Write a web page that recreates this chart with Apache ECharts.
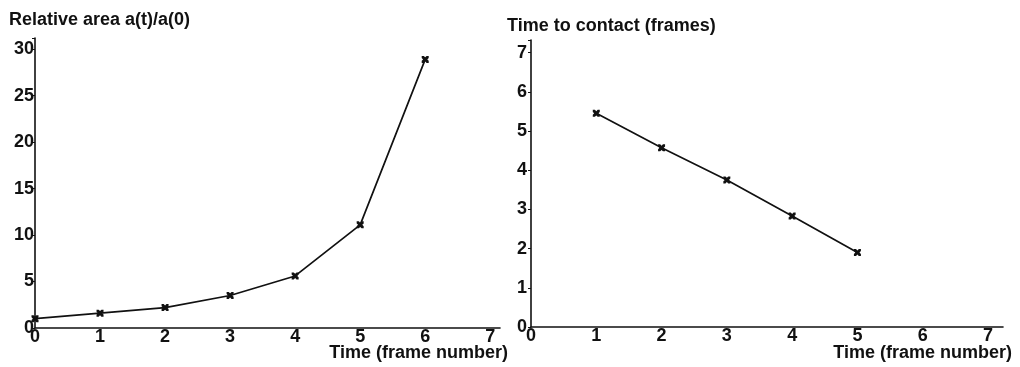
<!DOCTYPE html>
<html>
<head>
<meta charset="utf-8">
<script src="https://cdn.jsdelivr.net/npm/echarts@6/dist/echarts.min.js"></script>
<style>
  html, body { margin: 0; padding: 0; background: #fff; }
  #main { width: 1020px; height: 367px; }
</style>
</head>
<body>
<div id="main"></div>
<script>
// relative area a(t)/a(0), frames 0..6
var areaFrames = [0, 1, 2, 3, 4, 5, 6];
var areaValues = [1, 1.6, 2.2, 3.5, 5.6, 11.1, 28.9];

// time to contact, frames 1..5
var ttcFrames = [1, 2, 3, 4, 5];
var ttcValues = [5.45, 4.57, 3.75, 2.83, 1.9];

var font = 'Liberation Sans, Arial, sans-serif';
var cross = 'path://M0,0L3,0L5,2L7,0L10,0L10,3L8,5L10,7L10,10L7,10L5,8L3,10L0,10L0,7L2,5L0,3Z';

function pairs(xs, ys) {
  var out = [];
  for (var i = 0; i < xs.length; i++) out.push([xs[i], ys[i]]);
  return out;
}

function intLabel(step) {
  return function (v) {
    var r = Math.round(v / step) * step;
    return Math.abs(v - r) < 1e-6 ? String(r) : '';
  };
}

var axisLine = { show: true, lineStyle: { color: '#111', width: 1.6 } };
var labelStyle = { color: '#111', fontSize: 18, fontWeight: 'bold', fontFamily: font };
var textStyle = { fontSize: 18, fontWeight: 'bold', color: '#111', fontFamily: font };

var chart = echarts.init(document.getElementById('main'), null, { renderer: 'canvas' });
var option = {
  backgroundColor: '#fff',
  animation: false,
  title: [
    { text: 'Relative area a(t)/a(0)', left: 9, top: 11, padding: 0, textStyle: textStyle },
    { text: 'Time to contact (frames)', left: 507, top: 17, padding: 0, textStyle: textStyle },
    { text: 'Time (frame number)', right: 512, top: 344, padding: 0, textStyle: textStyle },
    { text: 'Time (frame number)', right: 8, top: 344, padding: 0, textStyle: textStyle }
  ],
  grid: [
    { left: 35, top: 38, width: 465, height: 290 },
    { left: 531, top: 40, width: 472, height: 287 }
  ],
  xAxis: [
    { gridIndex: 0, type: 'value', min: 0, max: 7.15, interval: 1,
      axisLine: axisLine, axisTick: { show: false }, splitLine: { show: false },
      axisLabel: Object.assign({ margin: 0, formatter: intLabel(1) }, labelStyle) },
    { gridIndex: 1, type: 'value', min: 0, max: 7.23, interval: 1,
      axisLine: axisLine, axisTick: { show: false }, splitLine: { show: false },
      axisLabel: Object.assign({ margin: 0, formatter: intLabel(1) }, labelStyle) }
  ],
  yAxis: [
    { gridIndex: 0, type: 'value', min: 0, max: 31.2, interval: 5,
      axisLine: axisLine, axisTick: { show: true, length: 3, lineStyle: { color: '#111' } },
      splitLine: { show: false },
      axisLabel: Object.assign({ margin: 1, formatter: intLabel(5) }, labelStyle) },
    { gridIndex: 1, type: 'value', min: 0, max: 7.32, interval: 1,
      axisLine: axisLine, axisTick: { show: true, length: 3, lineStyle: { color: '#111' } },
      splitLine: { show: false },
      axisLabel: Object.assign({ margin: 4, formatter: intLabel(1) }, labelStyle) }
  ],
  series: [
    { type: 'line', xAxisIndex: 0, yAxisIndex: 0, data: pairs(areaFrames, areaValues),
      symbol: cross, symbolSize: 7, showAllSymbol: true,
      lineStyle: { color: '#111', width: 1.7 }, itemStyle: { color: '#111' } },
    { type: 'line', xAxisIndex: 1, yAxisIndex: 1, data: pairs(ttcFrames, ttcValues),
      symbol: cross, symbolSize: 7, showAllSymbol: true,
      lineStyle: { color: '#111', width: 1.7 }, itemStyle: { color: '#111' } }
  ]
};
chart.setOption(option);

window.addEventListener('resize', function () {
  chart.resize();
});
</script>
</body>
</html>
